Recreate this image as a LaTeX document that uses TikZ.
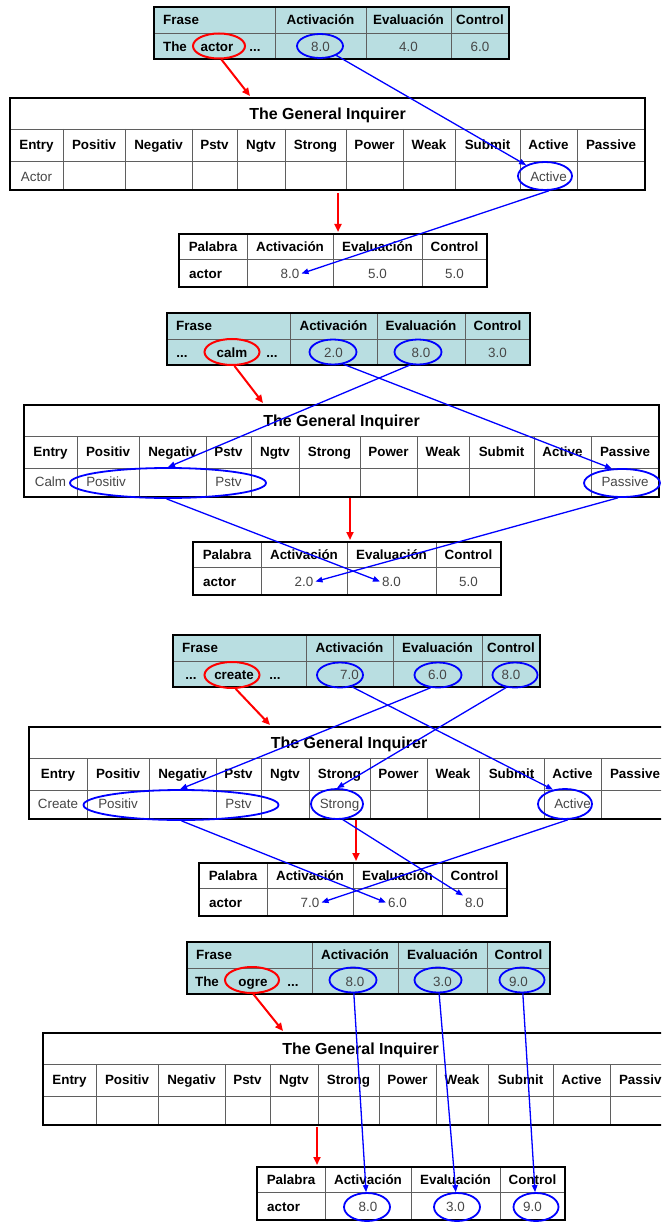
\documentclass[tikz,border=0pt]{standalone}
\usepackage{fontspec}
\setmainfont{Liberation Sans}
\usetikzlibrary{shapes.geometric,arrows.meta}
\definecolor{frasefill}{RGB}{185,222,225}
\definecolor{gridgray}{RGB}{95,95,95}
\definecolor{valgray}{RGB}{70,70,70}
\definecolor{myred}{RGB}{255,0,0}
\definecolor{myblue}{RGB}{0,0,255}
\tikzset{
  outerline/.style={line width=2.4pt, black},
  innerline/.style={line width=0.9pt, gridgray},
  hdr/.style={font=\fontsize{13.4}{15}\selectfont\bfseries, inner sep=1pt, text height=9.6pt, text depth=0pt},
  ttl/.style={font=\fontsize{16}{18}\selectfont\bfseries, inner sep=1pt, text height=11.5pt, text depth=0pt},
  val/.style={font=\fontsize{13.4}{15}\selectfont, text=valgray, inner sep=2pt, text height=9.6pt, text depth=0pt},
  bval/.style={font=\fontsize{13.4}{15}\selectfont\bfseries, inner sep=1pt, text height=9.6pt, text depth=0pt},
  redell/.style={ellipse, draw=myred, line width=2pt, inner sep=0pt},
  blueell/.style={ellipse, draw=myblue, line width=1.8pt, inner sep=0pt},
  redarrow/.style={draw=myred, line width=2pt, -{Triangle[length=8pt,width=7pt]}},
  bluearrow/.style={draw=myblue, line width=1.3pt, -{Triangle[length=7pt,width=5.5pt]}},
}
% xl xr yt yb vtop vxs hys fill
\newcommand{\tblgrid}[8]{%
  \fill[#8] (#1,#3) rectangle (#2,#4);
  \foreach \xx in {#6} \draw[innerline] (\xx,#5) -- (\xx,#4);
  \foreach \yy in {#7} \draw[innerline] (#1,\yy) -- (#2,\yy);
  \draw[outerline] (#1,#3) rectangle (#2,#4);
}
\newcommand{\frasetbl}[8]{%
  \tblgrid{0}{#5}{0}{52}{0}{#2,#3,#4}{26}{frasefill}
  \node[hdr, anchor=west] (#1h1) at (8,13) {Frase};
  \node[hdr] (#1h2) at ({(#2+#3)/2},13) {Activación};
  \node[hdr] (#1h3) at ({(#3+#4)/2},13) {Evaluación};
  \node[hdr] (#1h4) at ({(#4+#5)/2},13) {Control};
  \node[val] (#1v1) at ({(#2+#3)/2},39.5) {#6};
  \node[val] (#1v2) at ({(#3+#4)/2},39.5) {#7};
  \node[val] (#1v3) at ({(#4+#5)/2},39.5) {#8};
}
\newcommand{\paltbl}[4]{%
  \tblgrid{0}{308}{0}{53}{0}{68,154,243}{25}{white}
  \node[hdr] (#1h1) at (34,12.5) {Palabra};
  \node[hdr] (#1h2) at (111,12.5) {Activación};
  \node[hdr] (#1h3) at (198.5,12.5) {Evaluación};
  \node[hdr] (#1h4) at (275.5,12.5) {Control};
  \node[bval, anchor=west] (#1w) at (9,39.5) {actor};
  \node[val] (#1v1) at (111,39.5) {#2};
  \node[val] (#1v2) at (198.5,39.5) {#3};
  \node[val] (#1v3) at (275.5,39.5) {#4};
}
\newcommand{\gitbl}[2]{%
  \tblgrid{0}{635+#2}{0}{92}{31}{53+#2,115+#2,182+#2,227+#2,275+#2,336+#2,393+#2,445+#2,510+#2,567+#2}{31,63}{white}
  \node[ttl] (#1t) at ({(635+#2)/2},15.5) {The General Inquirer};
  \node[hdr] (#1h0) at ({(53+#2)/2},47) {Entry};
  \foreach \t/\c [count=\i] in {Positiv/84,Negativ/148.5,Pstv/204.5,Ngtv/251,Strong/305.5,Power/364.5,Weak/419,Submit/477.5,Active/538.5,Passive/601}
    \node[hdr] (#1h\i) at (\c+#2,47) {\t};
}
\begin{document}
\begin{tikzpicture}[x=1pt,y=-1pt]
\useasboundingbox (0,0) rectangle (661,1222);
\clip (0,0) rectangle (661,1222);
\fill[white] (0,0) rectangle (661,1222);

% ---------- Block 1 ----------
\begin{scope}[shift={(154,7)}]\frasetbl{f1}{121}{212}{297}{355}{8.0}{4.0}{6.0}\end{scope}
\begin{scope}[shift={(10,98)}]\gitbl{g1}{0}\end{scope}
\begin{scope}[shift={(179,234)}]\paltbl{p1}{8.0}{5.0}{5.0}\end{scope}
\node[bval] (f1a) at (175,46.5) {The};
\node[bval] (f1b) at (217,46.5) {actor};
\node[bval] (f1c) at (255,46.5) {...};
\node[val] (g1d1) at (36.5,176.5) {Actor};
\node[val] (g1d2) at (548.5,176.5) {Active};
\node[redell, minimum width=52pt, minimum height=25pt] (e1a) at (219,46) {};
\node[blueell, minimum width=46pt, minimum height=24pt] (e1b) at (320,46) {};
\node[blueell, minimum width=54pt, minimum height=28pt] (e1c) at (545,176) {};
\coordinate (r1a) at (250,96);
\coordinate (r1b) at (338,193);
\coordinate (r1c) at (338,232);
\draw[redarrow] (e1a.-80) -- (r1a);
\draw[bluearrow] (e1b) -- (e1c);
\draw[redarrow] (r1b) -- (r1c);
\draw[bluearrow] (e1c.-75) -- (p1v1.east);

% ---------- Block 2 ----------
\begin{scope}[shift={(167,313)}]\frasetbl{f2}{123}{210}{298}{363}{2.0}{8.0}{3.0}\end{scope}
\begin{scope}[shift={(24,405)}]\gitbl{g2}{0}\end{scope}
\begin{scope}[shift={(193,542)}]\paltbl{p2}{2.0}{8.0}{5.0}\end{scope}
\node[bval] (f2a) at (182,352.5) {...};
\node[bval] (f2b) at (232,352.5) {calm};
\node[bval] (f2c) at (272,352.5) {...};
\node[val] (g2d1) at (50.5,481.5) {Calm};
\node[val] (g2d2) at (106,481.5) {Positiv};
\node[val] (g2d3) at (228.5,481.5) {Pstv};
\node[val] (g2d4) at (625,481.5) {Passive};
\node[redell, minimum width=55pt, minimum height=26pt] (e2a) at (232,352) {};
\node[blueell, minimum width=47pt, minimum height=25pt] (e2b) at (333,352) {};
\node[blueell, minimum width=47pt, minimum height=25pt] (e2c) at (418,352) {};
\node[blueell, minimum width=196pt, minimum height=30pt] (e2d) at (168,483) {};
\node[blueell, minimum width=76pt, minimum height=28pt] (e2e) at (622,483) {};
\coordinate (r2a) at (263,403);
\coordinate (r2b) at (350,498);
\coordinate (r2c) at (350,540);
\draw[redarrow] (e2a.-80) -- (r2a);
\draw[bluearrow] (e2c.-120) -- (e2d.north);
\draw[bluearrow] (e2b.-50) -- (e2e.125);
\draw[redarrow] (r2b) -- (r2c);
\draw[bluearrow] (e2d.-95) -- (p2v2.west);
\draw[bluearrow] (e2e.-105) -- (p2v1.east);

% ---------- Block 3 ----------
\begin{scope}[shift={(173,635)}]\frasetbl{f3}{133}{220}{309}{367}{7.0}{6.0}{8.0}\end{scope}
\begin{scope}[shift={(29,727)}]\gitbl{g3}{5}\end{scope}
\begin{scope}[shift={(199,863)}]\paltbl{p3}{7.0}{6.0}{8.0}\end{scope}
\node[bval] (f3a) at (191,674.5) {...};
\node[bval] (f3b) at (234,674.5) {create};
\node[bval] (f3c) at (275,674.5) {...};
\node[val] (g3d1) at (58,803.5) {Create};
\node[val] (g3d2) at (118,803.5) {Positiv};
\node[val] (g3d3) at (238.5,803.5) {Pstv};
\node[val] (g3d4) at (339.5,803.5) {Strong};
\node[val] (g3d5) at (572.5,803.5) {Active};
\node[redell, minimum width=55pt, minimum height=26pt] (e3a) at (232,675) {};
\node[blueell, minimum width=46pt, minimum height=25pt] (e3b) at (340,675) {};
\node[blueell, minimum width=47pt, minimum height=25pt] (e3c) at (438,675) {};
\node[blueell, minimum width=45pt, minimum height=25pt] (e3d) at (515,675) {};
\node[blueell, minimum width=195pt, minimum height=30pt] (e3e) at (181,805) {};
\node[blueell, minimum width=52pt, minimum height=30pt] (e3f) at (337,804) {};
\node[blueell, minimum width=54pt, minimum height=30pt] (e3g) at (565,804) {};
\coordinate (r3a) at (270,725);
\coordinate (r3b) at (356,820);
\coordinate (r3c) at (356,861);
\draw[redarrow] (e3a.-75) -- (r3a);
\draw[bluearrow] (e3b.-45) -- (e3g.130);
\draw[bluearrow] (e3c.-120) -- (e3e.93);
\draw[bluearrow] (e3d.-125) -- (e3f.north);
\draw[redarrow] (r3b) -- (r3c);
\draw[bluearrow] (e3e.-88) -- (p3v2.west);
\draw[bluearrow] (e3f.-70) -- (p3v3.north west);
\draw[bluearrow] (e3g.-80) -- (p3v1.east);

% ---------- Block 4 ----------
\begin{scope}[shift={(187,942)}]\frasetbl{f4}{125}{211}{300}{363}{8.0}{3.0}{9.0}\end{scope}
\begin{scope}[shift={(43,1033)}]\gitbl{g4}{0}\end{scope}
\begin{scope}[shift={(257,1167)}]\paltbl{p4}{8.0}{3.0}{9.0}\end{scope}
\node[bval] (f4a) at (207,981.5) {The};
\node[bval] (f4b) at (253,981.5) {ogre};
\node[bval] (f4c) at (293,981.5) {...};
\node[redell, minimum width=54pt, minimum height=26pt] (e4a) at (252,980) {};
\node[blueell, minimum width=47pt, minimum height=25pt] (e4b) at (353,980) {};
\node[blueell, minimum width=47pt, minimum height=25pt] (e4c) at (438,980) {};
\node[blueell, minimum width=45pt, minimum height=25pt] (e4d) at (522,980) {};
\node[blueell, minimum width=46pt, minimum height=28pt] (e4e) at (367,1207) {};
\node[blueell, minimum width=46pt, minimum height=28pt] (e4f) at (457,1207) {};
\node[blueell, minimum width=45pt, minimum height=28pt] (e4g) at (536,1207) {};
\coordinate (r4a) at (283,1031);
\coordinate (r4b) at (317,1127);
\coordinate (r4c) at (317,1165);
\draw[redarrow] (e4a.-85) -- (r4a);
\draw[bluearrow] (e4b) -- (e4e);
\draw[bluearrow] (e4c) -- (e4f);
\draw[bluearrow] (e4d) -- (e4g);
\draw[redarrow] (r4b) -- (r4c);
\end{tikzpicture}
\end{document}
